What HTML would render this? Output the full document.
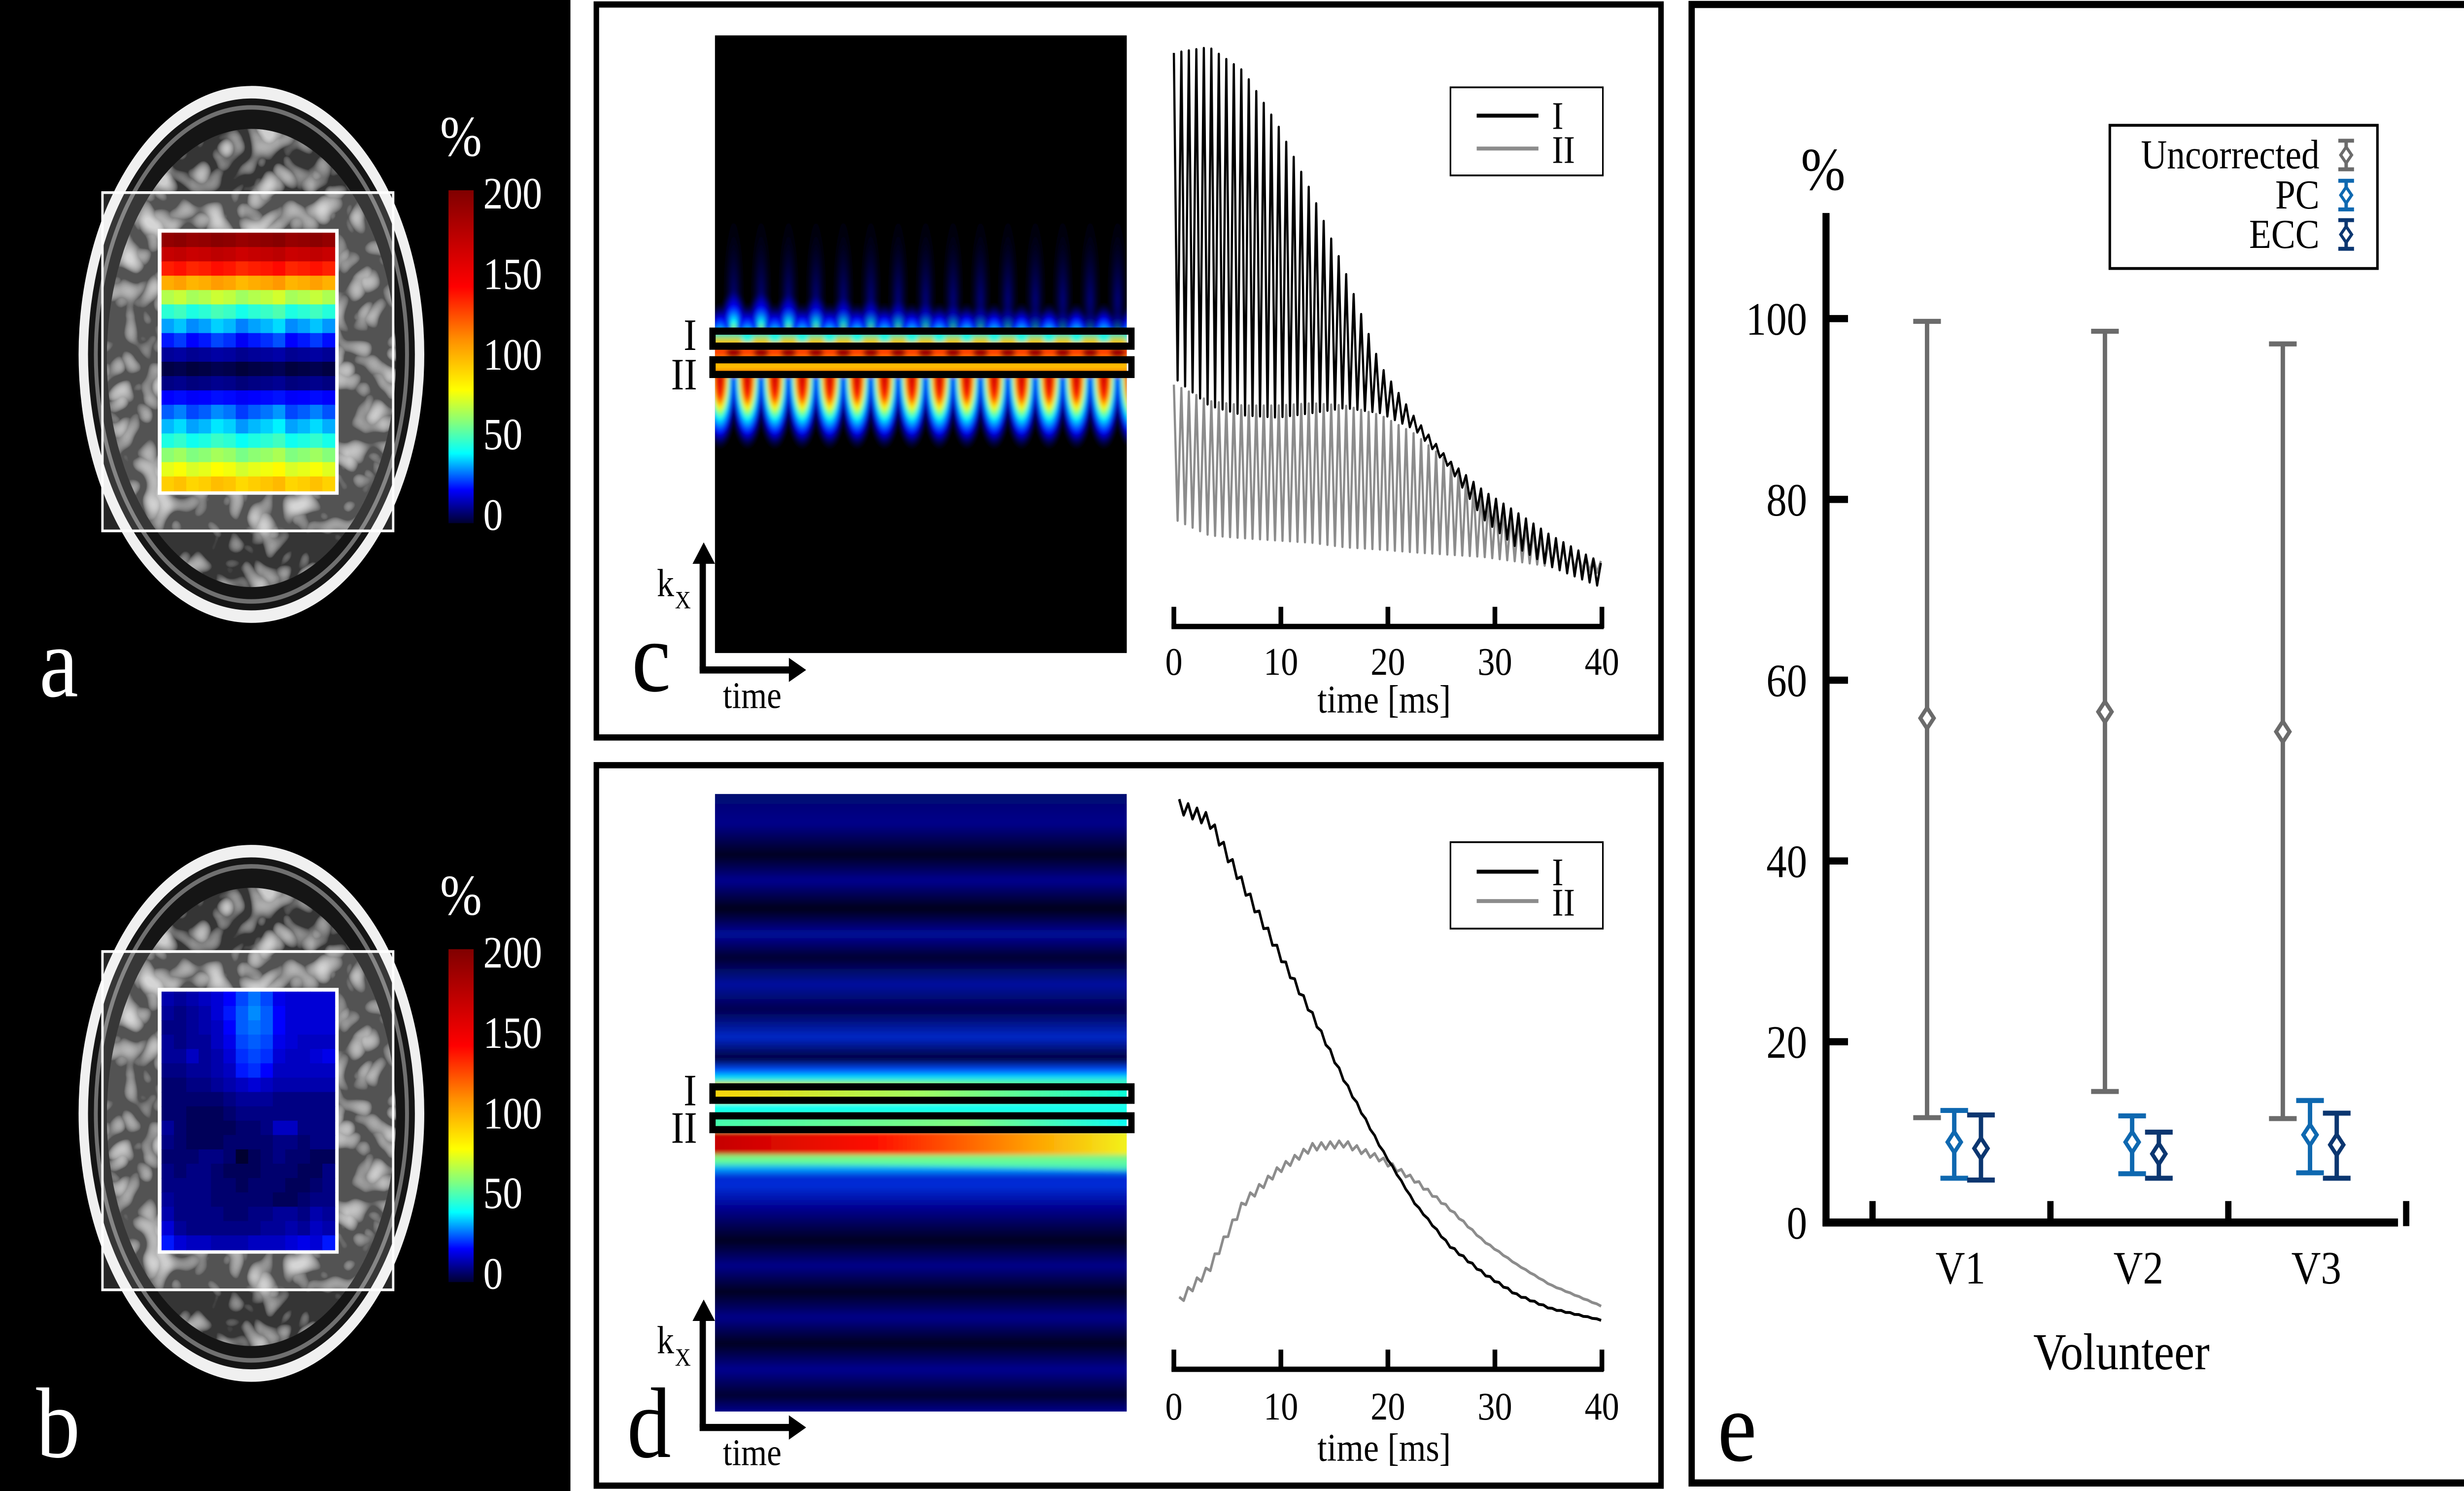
<!DOCTYPE html>
<html><head><meta charset="utf-8">
<style>
html,body{margin:0;padding:0;background:#fff;width:100vw;height:100vh;overflow:hidden}
svg#fig{position:absolute;left:0;top:0;display:block;width:100vw;height:100vh}
text{font-family:"Liberation Serif",serif}
</style></head>
<body>
<svg id="fig" viewBox="0 0 5691 3025" preserveAspectRatio="none" xmlns="http://www.w3.org/2000/svg">
<defs>
  <linearGradient id="cbar" x1="0" y1="0" x2="0" y2="1">
    <stop offset="0" stop-color="#800000"/><stop offset="0.29" stop-color="#ff0000"/>
    <stop offset="0.45" stop-color="#ff9000"/><stop offset="0.6" stop-color="#ffff00"/>
    <stop offset="0.7" stop-color="#80ff80"/><stop offset="0.79" stop-color="#00ffff"/>
    <stop offset="0.9" stop-color="#0000ff"/><stop offset="1" stop-color="#000030"/>
  </linearGradient>
  <filter id="brainTex" x="0" y="0" width="1" height="1">
    <feTurbulence type="turbulence" baseFrequency="0.045" numOctaves="2" seed="7"/>
    <feColorMatrix type="matrix" values="0 0 0 0 0.62  0 0 0 0 0.62  0 0 0 0 0.62  0 0 0 2.2 -0.45"/>
    <feComposite in2="SourceGraphic" operator="in"/>
    <feMerge><feMergeNode in="SourceGraphic"/><feMergeNode/></feMerge>
  </filter>
  <filter id="blur1"><feGaussianBlur stdDeviation="1.3"/></filter>
  <radialGradient id="upLobe">
    <stop offset="0" stop-color="#ffff00"/><stop offset="0.3" stop-color="#00ffff"/>
    <stop offset="0.65" stop-color="#0000ff"/><stop offset="1" stop-color="#0000ff" stop-opacity="0"/>
  </radialGradient>
  <radialGradient id="downLobe">
    <stop offset="0" stop-color="#c00000"/><stop offset="0.3" stop-color="#ff2000"/>
    <stop offset="0.45" stop-color="#ffff00"/><stop offset="0.6" stop-color="#00ffff"/>
    <stop offset="0.8" stop-color="#0000ff"/><stop offset="1" stop-color="#0000a0" stop-opacity="0"/>
  </radialGradient>
  <radialGradient id="colLobe">
    <stop offset="0" stop-color="#0010ff" stop-opacity="0.7"/><stop offset="1" stop-color="#000060" stop-opacity="0"/>
  </radialGradient>
  <linearGradient id="cBand" x1="0" y1="0" x2="0" y2="1">
    <stop offset="0" stop-color="#00e0ff"/><stop offset="0.25" stop-color="#ffd000"/>
    <stop offset="0.45" stop-color="#ff2000"/><stop offset="0.6" stop-color="#ff8000"/>
    <stop offset="0.8" stop-color="#ffd000"/><stop offset="1" stop-color="#ff3000"/>
  </linearGradient>
  <linearGradient id="dBase" gradientUnits="userSpaceOnUse" x1="0" y1="443.6" x2="0" y2="788.6">
    <stop offset="0" stop-color="#000a70"/><stop offset="0.048" stop-color="#00008a"/>
    <stop offset="0.099" stop-color="#000020"/><stop offset="0.14" stop-color="#000090"/>
    <stop offset="0.186" stop-color="#000018"/><stop offset="0.227" stop-color="#00089a"/>
    <stop offset="0.265" stop-color="#000030"/><stop offset="0.308" stop-color="#0010a0"/>
    <stop offset="0.349" stop-color="#000050"/><stop offset="0.394" stop-color="#0028c8"/>
    <stop offset="0.428" stop-color="#000040"/><stop offset="0.447" stop-color="#0050ff"/>
    <stop offset="0.459" stop-color="#00e0ff"/><stop offset="0.473" stop-color="#a0ff60"/>
    <stop offset="0.497" stop-color="#60ffd0"/><stop offset="0.508" stop-color="#00ffff"/>
    <stop offset="0.523" stop-color="#40ffb0"/><stop offset="0.543" stop-color="#80ff80"/>
    <stop offset="0.552" stop-color="#ff2000"/><stop offset="0.57" stop-color="#e00000"/>
    <stop offset="0.584" stop-color="#ffc000"/><stop offset="0.596" stop-color="#60ffa0"/>
    <stop offset="0.607" stop-color="#00a0ff"/><stop offset="0.622" stop-color="#0020d0"/>
    <stop offset="0.633" stop-color="#0030d8"/><stop offset="0.671" stop-color="#000090"/>
    <stop offset="0.723" stop-color="#000020"/><stop offset="0.764" stop-color="#00008a"/>
    <stop offset="0.806" stop-color="#000020"/><stop offset="0.848" stop-color="#00008a"/>
    <stop offset="0.89" stop-color="#000020"/><stop offset="0.932" stop-color="#000090"/>
    <stop offset="0.974" stop-color="#000030"/><stop offset="1" stop-color="#00008a"/>
  </linearGradient>
  <linearGradient id="dRowI" x1="0" y1="0" x2="1" y2="0">
    <stop offset="0" stop-color="#ffd000"/><stop offset="0.5" stop-color="#a0ff60"/><stop offset="1" stop-color="#00ffe0"/>
  </linearGradient>
  <linearGradient id="dRowII" x1="0" y1="0" x2="1" y2="0">
    <stop offset="0" stop-color="#40ffb0"/><stop offset="0.6" stop-color="#80ff80"/><stop offset="1" stop-color="#00ffff"/>
  </linearGradient>
  <linearGradient id="dRed" x1="0" y1="0" x2="1" y2="0">
    <stop offset="0" stop-color="#c00000"/><stop offset="0.4" stop-color="#ff1000"/>
    <stop offset="0.75" stop-color="#ffa000"/><stop offset="1" stop-color="#f0ff20"/>
  </linearGradient>
</defs>
<g id="root" transform="scale(3.6295,3.6315)">

<rect x="0" y="0" width="1568" height="833" fill="#ffffff"/>
<rect x="0" y="0" width="363" height="833" fill="#000000"/>

<g id="panelA">
  <g>
    <ellipse cx="160" cy="198" rx="110" ry="150" fill="#f0f0f0"/>
    <ellipse cx="160" cy="198" rx="104" ry="143" fill="#151515"/>
    <ellipse cx="160" cy="198" rx="99" ry="138" fill="none" stroke="#707070" stroke-width="2.5"/>
    <ellipse cx="160" cy="200" rx="92" ry="128" fill="#353535" filter="url(#brainTex)"/>
  </g>
  <rect x="65.2" y="107.6" width="185" height="189" fill="rgba(255,255,255,0.15)" stroke="#ffffff" stroke-width="1.5"/>
  <rect x="100.4" y="127.9" width="115.1" height="148.5" fill="#ffffff"/>
  <g id="cellsA"></g>
  <rect x="285.4" y="106.3" width="16" height="186" fill="url(#cbar)"/>
  <text x="280" y="87" font-size="32" fill="#fff">%</text>
  <g font-size="25" fill="#fff">
    <text x="307.5" y="116.5">200</text><text x="307.5" y="161.5">150</text>
    <text x="307.5" y="206.5">100</text><text x="307.5" y="251">50</text><text x="307.5" y="296">0</text>
  </g>
  <text x="25" y="389" font-size="56" fill="#fff">a</text>
</g>

<g id="panelB" transform="translate(0,424)">
  <g>
    <ellipse cx="160" cy="198" rx="110" ry="150" fill="#f0f0f0"/>
    <ellipse cx="160" cy="198" rx="104" ry="143" fill="#151515"/>
    <ellipse cx="160" cy="198" rx="99" ry="138" fill="none" stroke="#707070" stroke-width="2.5"/>
    <ellipse cx="160" cy="200" rx="92" ry="128" fill="#353535" filter="url(#brainTex)"/>
  </g>
  <rect x="65.2" y="107.6" width="185" height="189" fill="rgba(255,255,255,0.15)" stroke="#ffffff" stroke-width="1.5"/>
  <rect x="100.4" y="127.9" width="115.1" height="148.5" fill="#ffffff"/>
  <g id="cellsB"></g>
  <rect x="285.4" y="106.3" width="16" height="186" fill="url(#cbar)"/>
  <text x="280" y="87" font-size="32" fill="#fff">%</text>
  <g font-size="25" fill="#fff">
    <text x="307.5" y="116.5">200</text><text x="307.5" y="161.5">150</text>
    <text x="307.5" y="206.5">100</text><text x="307.5" y="251">50</text><text x="307.5" y="296">0</text>
  </g>
  <text x="23" y="390" font-size="56" fill="#fff">b</text>
</g>

<g id="panelC">
  <rect x="379.5" y="2.5" width="677.5" height="409.5" fill="none" stroke="#000" stroke-width="3.5"/>
  <rect x="455" y="19.8" width="262" height="345" fill="#000005"/>
  <svg x="455" y="19.8" width="262" height="345" viewBox="455 19.8 262 345" overflow="hidden">
    <g id="lobesC" filter="url(#blur1)"></g>
  </svg>
  <rect x="453.4" y="185" width="266.6" height="8.4" fill="none" stroke="#000" stroke-width="4"/>
  <rect x="453.4" y="201" width="266.6" height="8.2" fill="none" stroke="#000" stroke-width="4"/>
  <text x="435" y="195.5" font-size="25">I</text>
  <text x="427" y="217.5" font-size="25">II</text>
  <g>
    <line x1="447.2" y1="374.3" x2="447.2" y2="313" stroke="#000" stroke-width="4"/>
    <polygon points="440.7,315 455,315 447.8,303" fill="#000"/>
    <line x1="445.2" y1="374.3" x2="504" y2="374.3" stroke="#000" stroke-width="4"/>
    <polygon points="502,367.5 502,381 513,374.3" fill="#000"/>
    <text x="418" y="333" font-size="22">k</text><text x="429.5" y="340" font-size="14">X</text>
    <text x="460" y="395.5" font-size="21">time</text>
  </g>
  <text x="402" y="386" font-size="56">c</text>
  <g>
    <line x1="745.5" y1="350" x2="1020.5" y2="350" stroke="#000" stroke-width="3"/>
    <g id="ticksC"></g>
    <text x="880.8" y="398" font-size="22" text-anchor="middle">time [ms]</text>
  </g>
  <g id="linesC"></g>
  <g>
    <rect x="923" y="48.8" width="97" height="49.2" fill="#fff" stroke="#000" stroke-width="1"/>
    <line x1="939.7" y1="64.6" x2="979" y2="64.6" stroke="#000" stroke-width="2.2"/>
    <line x1="939.7" y1="83" x2="979" y2="83" stroke="#8c8c8c" stroke-width="2.2"/>
    <text x="987.6" y="72" font-size="22">I</text><text x="987.6" y="91" font-size="22">II</text>
  </g>
</g>

<g id="panelD">
  <rect x="379.5" y="427.5" width="677.5" height="402.5" fill="none" stroke="#000" stroke-width="3.5"/>
  <g>
    <svg x="455" y="443.6" width="262" height="345" viewBox="455 443.6 262 345" overflow="hidden">
      <g filter="url(#blur1)">
        <rect x="445" y="435" width="282" height="362" fill="url(#dBase)"/>
        <rect x="445" y="605" width="282" height="11" fill="url(#dRowI)"/>
        <rect x="445" y="624" width="282" height="7" fill="url(#dRowII)"/>
        <rect x="445" y="632" width="282" height="13" fill="url(#dRed)"/>
        <polygon points="445,645 727,645 727,654 445,649" fill="#60ffa0" opacity="0.7"/>
      </g>
    </svg>
  </g>
  <rect x="453.4" y="607.2" width="266.6" height="7.5" fill="none" stroke="#000" stroke-width="4"/>
  <rect x="453.4" y="623.4" width="266.6" height="7.7" fill="none" stroke="#000" stroke-width="4"/>
  <text x="435" y="617.5" font-size="25">I</text>
  <text x="427" y="638.5" font-size="25">II</text>
  <g>
    <line x1="447.2" y1="797.5" x2="447.2" y2="736" stroke="#000" stroke-width="4"/>
    <polygon points="440.7,738 455,738 447.8,726" fill="#000"/>
    <line x1="445.2" y1="797.5" x2="504" y2="797.5" stroke="#000" stroke-width="4"/>
    <polygon points="502,790.7 502,804.3 513,797.5" fill="#000"/>
    <text x="418" y="756" font-size="22">k</text><text x="429.5" y="763" font-size="14">X</text>
    <text x="460" y="818.5" font-size="21">time</text>
  </g>
  <text x="399" y="814" font-size="56">d</text>
  <g>
    <line x1="745.5" y1="765" x2="1020.5" y2="765" stroke="#000" stroke-width="3"/>
    <g id="ticksD"></g>
    <text x="880.8" y="816" font-size="22" text-anchor="middle">time [ms]</text>
  </g>
  <g id="linesD"></g>
  <g>
    <rect x="923" y="470.5" width="97" height="48.3" fill="#fff" stroke="#000" stroke-width="1"/>
    <line x1="939.7" y1="487" x2="979" y2="487" stroke="#000" stroke-width="2.2"/>
    <line x1="939.7" y1="503.4" x2="979" y2="503.4" stroke="#8c8c8c" stroke-width="2.2"/>
    <text x="987.6" y="494.5" font-size="22">I</text><text x="987.6" y="511.5" font-size="22">II</text>
  </g>
</g>

<g id="panelE">
  <rect x="1076.5" y="2.5" width="1487.5" height="826" fill="none" stroke="#000" stroke-width="4"/>
  <text x="1146" y="106" font-size="34">%</text>
  <line x1="1162" y1="119" x2="1162" y2="685" stroke="#000" stroke-width="4.5"/>
  <line x1="1159.8" y1="683" x2="1526" y2="683" stroke="#000" stroke-width="4.5"/>
  <g id="yTicksE"></g>
  <g id="xTicksE"></g>
  <text x="1350" y="765" font-size="29" text-anchor="middle">Volunteer</text>
  <text x="1093" y="816" font-size="56">e</text>
  <g id="barsE"></g>
  <g>
    <rect x="1342.6" y="70" width="170.3" height="80" fill="#fff" stroke="#000" stroke-width="1.6"/>
    <g id="legendE"></g>
  </g>
</g>
</g>
</svg>

<script>
// ---------- data ----------
const aRowValues = [192,168,135,100,68,48,34,22,10,2,8,20,28,36,46,62,76,92];
const aColOffsets = [0,3,-2,0,4,2,-3,0,2,5,-2,0,3,-1];
const bGrid = [
 [12,10,12,14,16,20,26,30,26,18,16,16,16,16],
 [10,8,10,12,16,22,28,32,28,20,16,16,16,16],
 [8,8,10,12,14,20,28,30,28,20,16,16,16,16],
 [10,8,10,10,14,18,26,28,26,18,16,14,14,14],
 [10,10,14,10,12,16,24,26,24,16,14,14,16,18],
 [8,8,10,10,12,14,22,24,20,14,14,14,14,14],
 [6,6,8,8,10,12,14,16,14,12,12,12,12,12],
 [6,6,6,6,6,8,10,10,10,8,8,8,8,8],
 [6,6,4,4,4,6,8,8,8,8,8,8,8,8],
 [10,6,4,4,4,4,6,6,8,14,14,8,8,8],
 [8,6,4,4,4,6,6,6,6,8,8,6,8,8],
 [6,6,6,8,8,6,0,4,6,8,6,6,4,4],
 [8,6,8,8,6,4,4,4,6,6,6,4,4,8],
 [8,8,8,8,6,6,4,6,6,6,4,4,6,8],
 [10,8,8,8,6,6,6,6,6,4,4,6,8,8],
 [12,8,8,8,8,6,6,8,8,10,10,8,12,10],
 [16,10,8,8,8,8,8,8,10,10,12,10,14,12],
 [22,16,14,14,12,12,12,14,14,14,16,18,16,22]
];

const cTimes  = [0,3.3,6.5,9.7,12.9,16,19.3,22.5,25.7,28.9,32,35.2,40];
const cIUpper = [99,100,95.8,86.3,74.2,60.4,43.8,34.6,27.1,21.7,17.9,13.8,8.8];
const cILower = [41.7,36.7,35,34.6,35.4,36.3,35.4,32.5,25.8,16.7,11.7,8.3,4.6];
const cIIUpper = [40.4,37.5,36.7,36.7,37.1,36.7,35,31.7,26.7,20.8,16.7,12.5,9.2];
const cIILower = [16.7,13.8,13.3,12.9,12.5,11.7,11.3,10.8,10.4,10,9.2,8.3,7.1];
const cPeriod = 0.7;

const dTimes = [0.5,3.3,6.5,9.7,12.9,16,19.3,22.5,25.7,28.9,32,35.2,40];
const dI  = [100,97.5,85.8,74.2,62.9,50.8,39.2,29.2,21.7,16.7,12.9,10.4,8.3];
const dII = [11.7,17.5,29.2,35,39.2,39.8,37.1,33.3,28.3,22.5,18.3,14.6,10.8];
const dIRipple  = [2.5,2.2,1.8,1.5,1.0,0.6,0.3,0.2,0.4,0.4,0.3,0.2,0.1];
const dIIRipple = [1.5,1.5,1.4,1.3,1.3,1.2,1.0,0.8,0.4,0.2,0.1,0.1,0.1];
const dPeriod = 0.83;

const timeTicks = [0,10,20,30,40];

const eCategories = ["V1","V2","V3"];
const eSeriesNames = ["Uncorrected","PC","ECC"];
const eMean  = [[55.8,56.5,54.3],[8.9,8.9,9.7],[8.2,7.6,8.6]];
const eLow   = [[11.6,14.5,11.5],[4.9,5.4,5.5],[4.7,4.9,4.9]];
const eHigh  = [[99.7,98.6,97.2],[12.4,11.8,13.5],[11.9,10.0,12.1]];
const eYTicks = [0,20,40,60,80,100];

// ---------- helpers ----------
const NS = "http://www.w3.org/2000/svg";
function mk(tag, attrs, parent){
  const e = document.createElementNS(NS, tag);
  for (const k in attrs) e.setAttribute(k, attrs[k]);
  parent.appendChild(e);
  return e;
}
const CSTOPS = [[0,[0,0,48]],[0.1,[0,0,255]],[0.21,[0,255,255]],[0.3,[128,255,128]],[0.4,[255,255,0]],[0.71,[255,0,0]],[1,[128,0,0]]];
function cmap(t){
  t = Math.max(0, Math.min(1, t));
  for (let i=1;i<CSTOPS.length;i++){
    if (t <= CSTOPS[i][0]){
      const t0 = CSTOPS[i-1][0], c0 = CSTOPS[i-1][1], t1 = CSTOPS[i][0], c1 = CSTOPS[i][1];
      const f = (t-t0)/(t1-t0);
      return "rgb(" + c0.map((c,j)=>Math.round(c+(c1[j]-c)*f)).join(",") + ")";
    }
  }
  return "rgb(128,0,0)";
}
function interp(xs, ys, x){
  if (x <= xs[0]) return ys[0];
  for (let i=1;i<xs.length;i++){
    if (x <= xs[i]){ const f=(x-xs[i-1])/(xs[i]-xs[i-1]); return ys[i-1]+(ys[i]-ys[i-1])*f; }
  }
  return ys[ys.length-1];
}

// ---------- heatmaps a/b ----------
function drawCells(gid, valueAt, rows, cols){
  const g = document.getElementById(gid);
  const x0=102.8, x1=213, y0=130, y1=274.2;
  const cw=(x1-x0)/cols, ch=(y1-y0)/rows;
  for (let r=0;r<rows;r++) for (let c=0;c<cols;c++){
    const el = mk("rect",{x:(x0+c*cw).toFixed(2), y:(y0+r*ch).toFixed(2), width:(cw+0.3).toFixed(2), height:(ch+0.3).toFixed(2), fill:cmap(valueAt(r,c)/200)}, g);
    
    
  }
}
drawCells("cellsA", (r,c)=>aRowValues[r]+aColOffsets[c]*(aRowValues[r]>20?1:0.3), aRowValues.length, aColOffsets.length);
drawCells("cellsB", (r,c)=>bGrid[r][c], bGrid.length, bGrid[0].length);

// ---------- k-space image c ----------
(function(){
  const g = document.getElementById("lobesC");
  mk("rect",{x:445,y:10,width:282,height:365,fill:"#000005"},g);
  const nL = 15, p = 17.45, xs = 466.9;
  for (let i=0;i<nL;i++){
    const cx = xs + i*p;
    mk("ellipse",{cx:cx,cy:168,rx:6,ry:45,fill:"url(#colLobe)",opacity:0.75},g);
  }
  for (let i=0;i<nL;i++){
    const cx = xs + i*p;
    const fade = Math.max(0.35, 1 - i*0.05);
    mk("ellipse",{cx:cx,cy:186,rx:8.5,ry:18*fade+5,fill:"url(#upLobe)",opacity:fade.toFixed(2)},g);
  }
  for (let i=-1;i<nL;i++){
    const cx = xs + i*p;
    mk("ellipse",{cx:cx+8.7,cy:210,rx:10.5,ry:40,fill:"url(#downLobe)"},g);
  }
  mk("rect",{x:445,y:185,width:282,height:25,fill:"url(#cBand)"},g);
  for (let i=0;i<nL;i++){
    const cx = xs + i*p;
    mk("ellipse",{cx:cx,cy:197,rx:5,ry:3.5,fill:"#a00000"},g);
    mk("ellipse",{cx:cx+8.7,cy:189,rx:4,ry:2.5,fill:"#00ffff",opacity:0.8},g);
  }
})();

// ---------- line charts c/d ----------
function xT(t){ return 747 + t*(1019.4-747)/40; }
function yC(v){ return 342.7 - v*3.163; }
function yD(v){ return 763.6 - v*3.132; }

function drawTicks(gid, yAxis, yLabel){
  const g = document.getElementById(gid);
  timeTicks.forEach(t=>{
    const l = mk("line",{x1:xT(t),x2:xT(t),y1:yAxis-11,y2:yAxis+1,stroke:"#000","stroke-width":3},g);
    
    
    const tx = mk("text",{x:xT(t),y:yLabel,"font-size":22,"text-anchor":"middle"},g);
    tx.textContent = t;
    
    
  });
}
drawTicks("ticksC", 350, 377);
drawTicks("ticksD", 765, 793);

function zigzag(upper, lower, times, period, yfn){
  const pts = [];
  let k = 0;
  for (let t=0; t<=40.0001; t+=period/2, k++){
    const v = (k%2===0) ? interp(times, upper, t) : interp(times, lower, t);
    pts.push(xT(t).toFixed(2)+","+yfn(v).toFixed(2));
  }
  return pts.join(" ");
}
(function(){
  const g = document.getElementById("linesC");
  const l2 = mk("polyline",{points:zigzag(cIIUpper,cIILower,cTimes,cPeriod,yC),fill:"none",stroke:"#8c8c8c","stroke-width":1.4,"stroke-linejoin":"round"},g);
  
  
  const l1 = mk("polyline",{points:zigzag(cIUpper,cILower,cTimes,cPeriod,yC),fill:"none",stroke:"#000","stroke-width":1.4,"stroke-linejoin":"round"},g);
  
  
})();

function ripple(vals, rip, times, period, yfn){
  const pts = [];
  let k = 0;
  for (let t=times[0]; t<=40.0001; t+=period/2, k++){
    const v = interp(times, vals, t) + ((k%2===0)?0.5:-0.5)*interp(times, rip, t);
    pts.push(xT(t).toFixed(2)+","+yfn(v).toFixed(2));
  }
  return pts.join(" ");
}
(function(){
  const g = document.getElementById("linesD");
  const l2 = mk("polyline",{points:ripple(dII,dIIRipple,dTimes,dPeriod,yD),fill:"none",stroke:"#8c8c8c","stroke-width":1.6,"stroke-linejoin":"round"},g);
  
  
  const l1 = mk("polyline",{points:ripple(dI,dIRipple,dTimes,dPeriod,yD),fill:"none",stroke:"#000","stroke-width":1.6,"stroke-linejoin":"round"},g);
  
  
})();

// ---------- error-bar chart e ----------
function yE(v){ return 683 - v*5.05; }
const bandW = 113.2, bandStart = 1187;
function xCat(i){ return bandStart + bandW*(i+0.5); }
const seriesOffset = [-17.3, 0, 17];
const seriesColor = ["#6b6b6b","#0e68b0","#0b3670"];

(function(){
  const g = document.getElementById("yTicksE");
  eYTicks.forEach(v=>{
    const l = mk("line",{x1:1162,x2:1176,y1:yE(v),y2:yE(v),stroke:"#000","stroke-width":4},g);
    
    
    const t = mk("text",{x:1150,y:yE(v)+9,"font-size":26,"text-anchor":"end"},g);
    t.textContent = v;
    
    
  });
  const gx = document.getElementById("xTicksE");
  for (let i=0;i<=eCategories.length;i++){
    const x = bandStart + 4.6 + bandW*i;
    const l = mk("line",{x1:x,x2:x,y1:671,y2:685,stroke:"#000","stroke-width":4},gx);
    
    
  }
  eCategories.forEach((c,i)=>{
    const t = mk("text",{x:xCat(i)+4,y:717,"font-size":26,"text-anchor":"middle"},gx);
    t.textContent = c;
    
    
  });
})();

function diamond(g, x, y, color){
  return mk("polygon",{points:(x)+","+(y-5.8)+" "+(x+4.3)+","+y+" "+x+","+(y+5.8)+" "+(x-4.3)+","+y,fill:"#fff",stroke:color,"stroke-width":2.4},g);
}
(function(){
  const g = document.getElementById("barsE");
  eSeriesNames.forEach((s,si)=>{
    eCategories.forEach((c,ci)=>{
      const x = xCat(ci) + seriesOffset[si];
      const col = seriesColor[si];
      const grp = mk("g",{},g);
      
      
      mk("line",{x1:x,x2:x,y1:yE(eLow[si][ci]),y2:yE(eHigh[si][ci]),stroke:col,"stroke-width":2.8},grp);
      mk("line",{x1:x-8.8,x2:x+8.8,y1:yE(eHigh[si][ci]),y2:yE(eHigh[si][ci]),stroke:col,"stroke-width":2.8},grp);
      mk("line",{x1:x-8.8,x2:x+8.8,y1:yE(eLow[si][ci]),y2:yE(eLow[si][ci]),stroke:col,"stroke-width":2.8},grp);
      const dm = diamond(grp, x, yE(eMean[si][ci]), col);
      
      
    });
  });
  const lg = document.getElementById("legendE");
  const ly = [86.6, 109, 131];
  eSeriesNames.forEach((s,si)=>{
    const col = seriesColor[si];
    const e = mk("g",{},lg);
    
    
    const t = mk("text",{x:1476,y:ly[si]+7.5,"font-size":23,"text-anchor":"end"},e);
    t.textContent = s;
    const x = 1493, y = ly[si];
    mk("line",{x1:x,x2:x,y1:y-8,y2:y+8,stroke:col,"stroke-width":2.2},e);
    mk("line",{x1:x-5,x2:x+5,y1:y-8,y2:y-8,stroke:col,"stroke-width":2.2},e);
    mk("line",{x1:x-5,x2:x+5,y1:y+8,y2:y+8,stroke:col,"stroke-width":2.2},e);
    mk("polygon",{points:x+","+(y-4.5)+" "+(x+3.5)+","+y+" "+x+","+(y+4.5)+" "+(x-3.5)+","+y,fill:"#fff",stroke:col,"stroke-width":1.8},e);
  });
})();
</script>
</body></html>
